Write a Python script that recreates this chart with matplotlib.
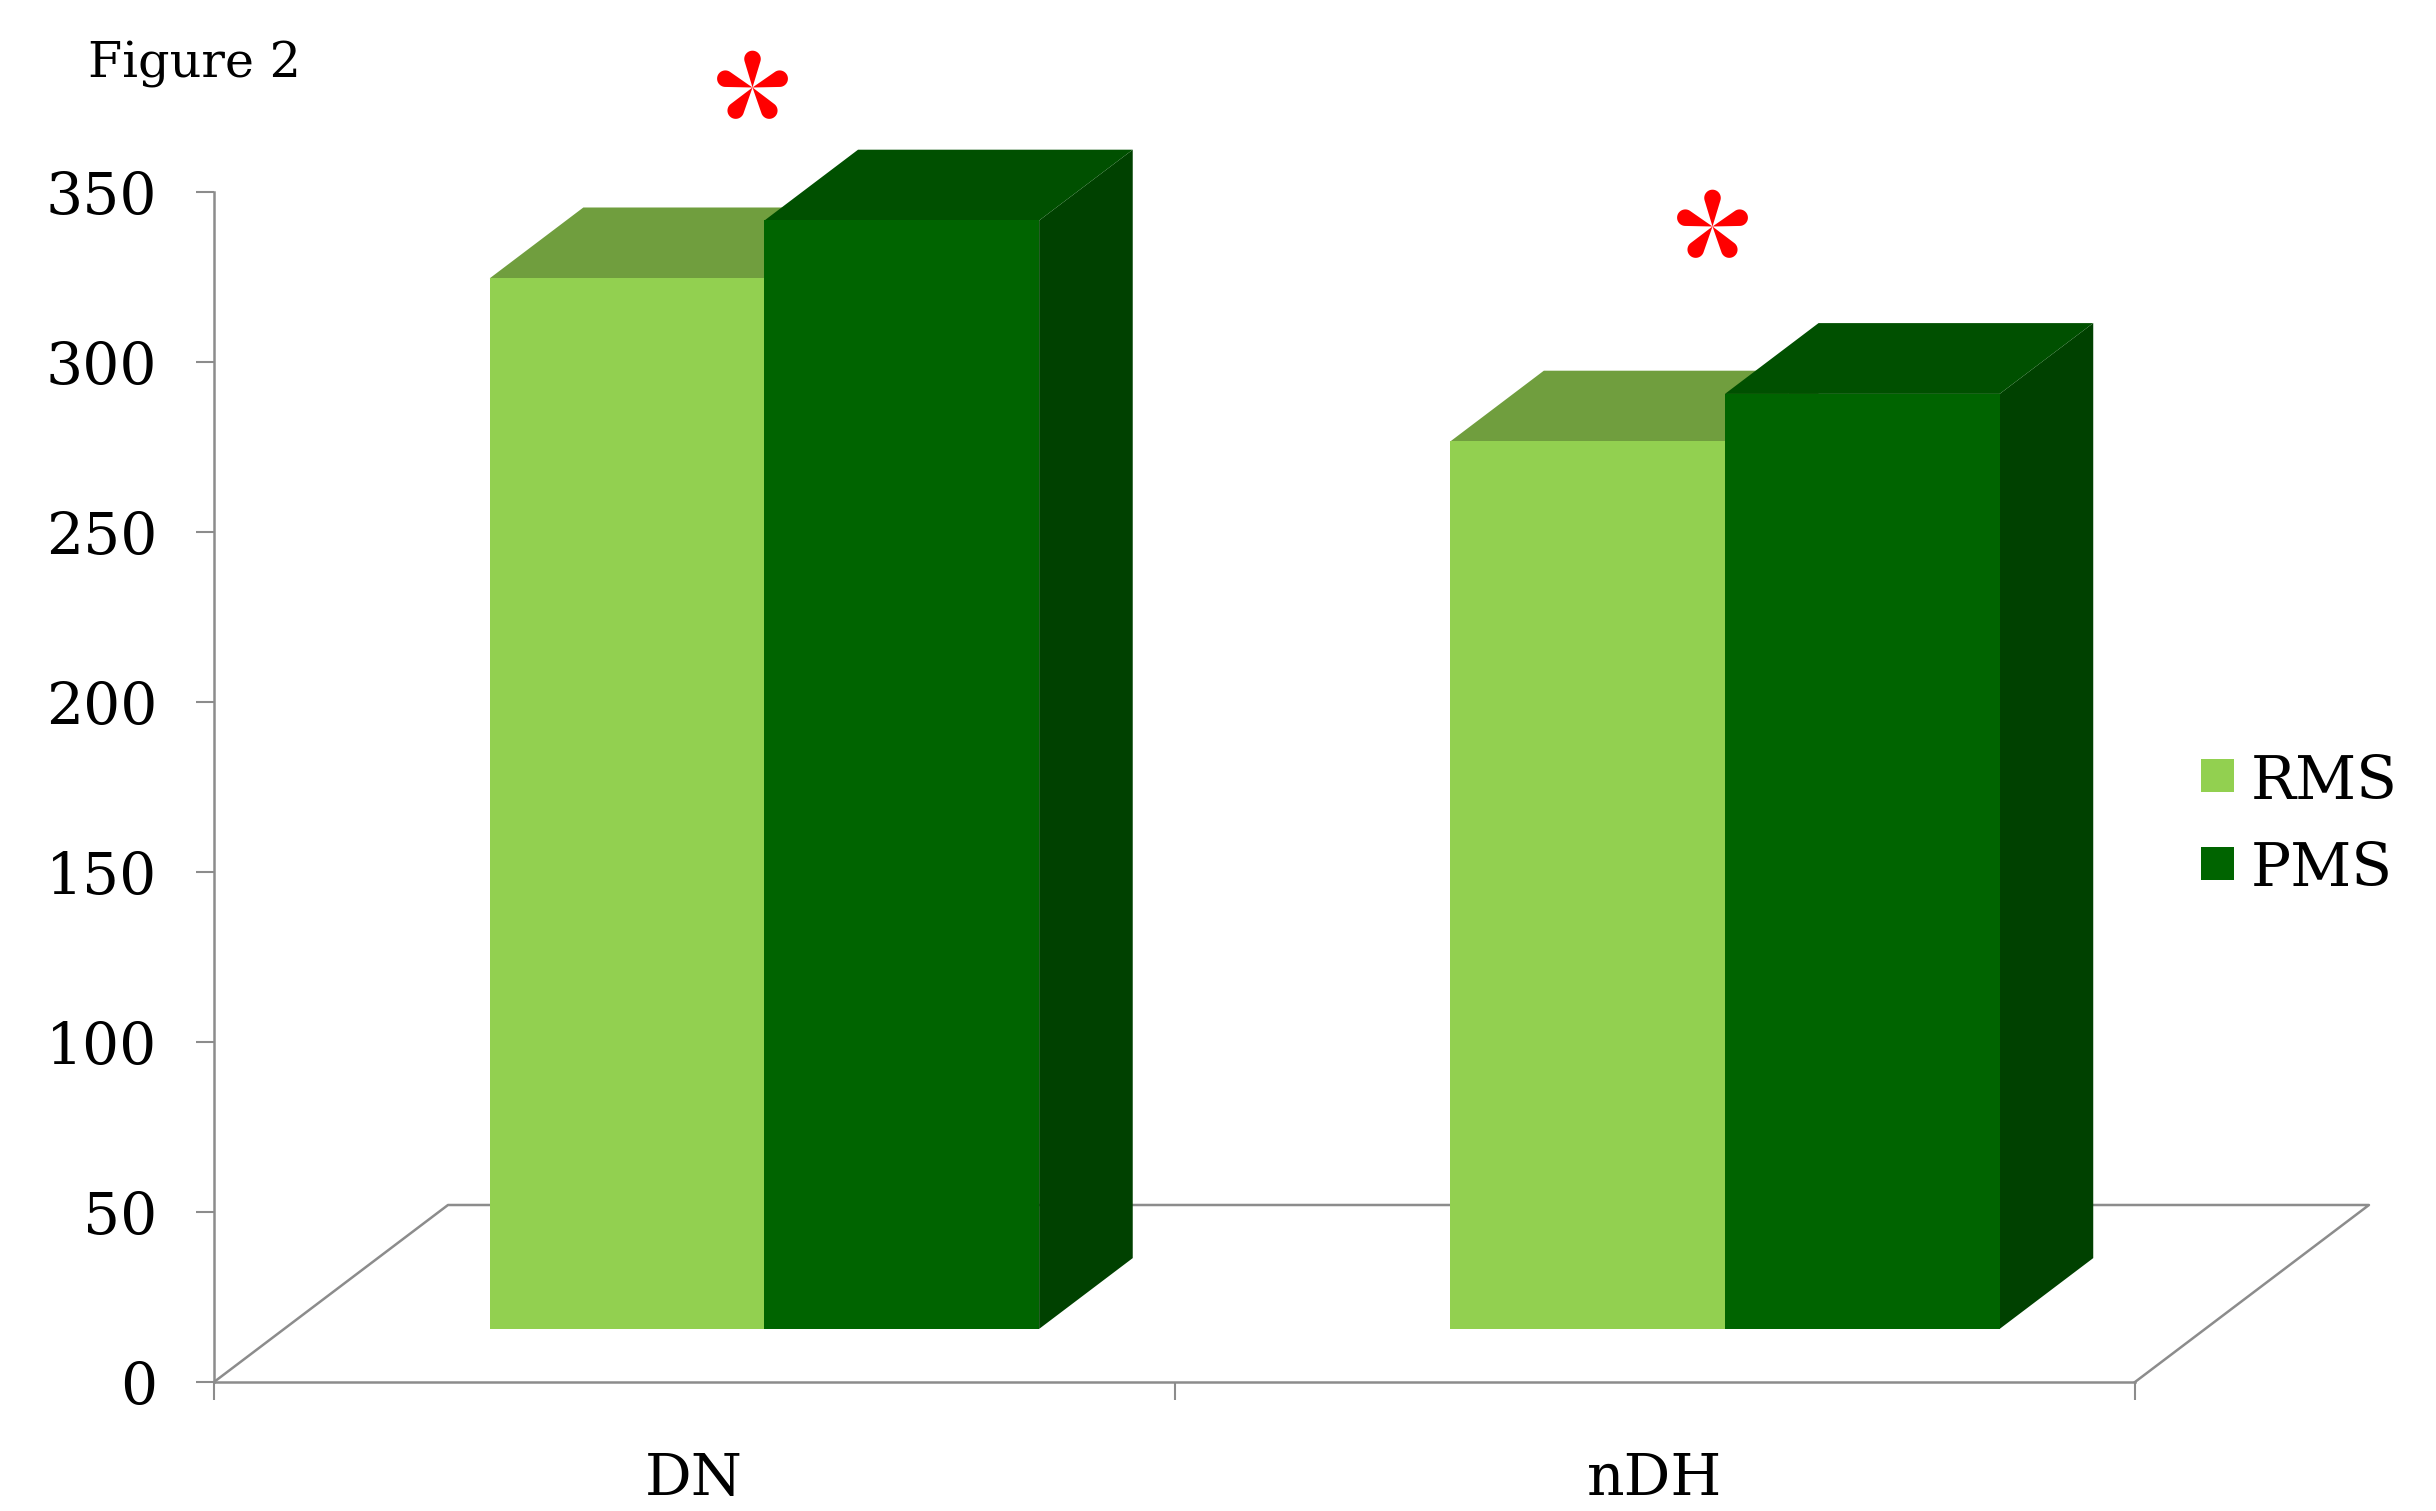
import numpy as np
import matplotlib.pyplot as plt
from matplotlib.patches import Polygon, Rectangle
from matplotlib.path import Path

plt.rcParams['font.family'] = ['DejaVu Serif']

#---data
categories = ['DN', 'nDH']
series = ['RMS', 'PMS']
rms = [309, 261]
pms = [326, 275]
yticks = [0, 50, 100, 150, 200, 250, 300, 350]
sig_y = [381, 340]   # where the red asterisks sit (value units)

#---colours: front, top, side
cols = {'RMS': ('#92D050', '#709E3E', '#5E8A32'),
        'PMS': ('#006400', '#005000', '#004100')}
line_col = '#8c8c8c'

#---fake 3d: oblique offset of the floor depth
DX = 0.2436   # x units for full depth
DY = 52.06    # value units for full depth
Z0, Z1 = 0.30, 0.70
BAR_W = 0.286

def proj(x, y, z):
    return (x + z*DX, y + z*DY)

#---five-petal asterisk marker (teardrop petals)
def asterisk_path(n=5, d=0.76, r=0.22):
    a = np.arcsin(r/d)
    phi = np.linspace(-a, np.pi + a, 40)
    petal = np.column_stack([r*np.cos(phi), d + r*np.sin(phi)])
    petal = np.vstack([[0, 0], petal, [0, 0]])
    verts, codes = [], []
    for k in range(n):
        t = np.deg2rad(72*k)
        rot = np.array([[np.cos(t), -np.sin(t)], [np.sin(t), np.cos(t)]])
        p = petal @ rot.T
        verts.extend(p.tolist())
        codes.extend([Path.MOVETO] + [Path.LINETO]*(len(p) - 2) + [Path.CLOSEPOLY])
    return Path(verts, codes)

fig = plt.figure(figsize=(24.36, 15.11), dpi=100)
ax = fig.add_axes([214/2436, 129/1511, (2135-214)/2436, (1382-192)/1511])
ax.set_xlim(0, 2)
ax.set_ylim(0, 350)

for s in ['top', 'right']:
    ax.spines[s].set_visible(False)
for s in ['left', 'bottom']:
    ax.spines[s].set_color(line_col)
    ax.spines[s].set_linewidth(1.8)

#---floor outline
fl = [proj(0, 0, 0), proj(0, 0, 1), proj(2, 0, 1), proj(2, 0, 0)]
fx, fy = zip(*fl)
ax.plot(fx, fy, color=line_col, lw=1.8, clip_on=False, zorder=1)

#---bars
vals = {'RMS': rms, 'PMS': pms}
for i in range(len(categories)):
    for j, name in enumerate(series):
        h = vals[name][i]
        x0 = i + 0.5 - BAR_W + j*BAR_W
        x1 = x0 + BAR_W
        front = [proj(x0, 0, Z0), proj(x1, 0, Z0), proj(x1, h, Z0), proj(x0, h, Z0)]
        top = [proj(x0, h, Z0), proj(x1, h, Z0), proj(x1, h, Z1), proj(x0, h, Z1)]
        side = [proj(x1, 0, Z0), proj(x1, 0, Z1), proj(x1, h, Z1), proj(x1, h, Z0)]
        z = 3 + 3*j
        ax.add_patch(Polygon(side, closed=True, fc=cols[name][2], ec='none', clip_on=False, zorder=z))
        ax.add_patch(Polygon(top, closed=True, fc=cols[name][1], ec='none', clip_on=False, zorder=z+1))
        ax.add_patch(Polygon(front, closed=True, fc=cols[name][0], ec='none', clip_on=False, zorder=z+2))

#---significance asterisks
star = asterisk_path()
sx = [i + 0.56 for i in range(len(categories))]
ax.plot(sx, sig_y, linestyle='none', marker=star, ms=53, color='red',
        mec='none', clip_on=False, zorder=10)

#---axes ticks
ax.set_yticks(yticks)
ax.tick_params(axis='y', length=13, width=1.5, color=line_col, labelsize=42, pad=28)
ax.set_xticks([0, 1, 2])
ax.set_xticklabels([])
ax.set_xticks([i + 0.5 for i in range(len(categories))], minor=True)
ax.set_xticklabels(categories, minor=True)
ax.tick_params(axis='x', which='major', length=13, width=1.5, color=line_col, direction='out')
ax.tick_params(axis='x', which='minor', length=0, labelsize=42, pad=50)

#---legend
for k, name in enumerate(series):
    fig.patches.append(Rectangle((2201/2436, 1 - (792 + 88*k)/1511), 33/2436, 33/1511,
                                 transform=fig.transFigure, fc=cols[name][0], ec='none'))
    fig.text(2251/2436, 1 - (799 + 87*k)/1511, name, fontsize=43, va='baseline', ha='left')

fig.text(88/2436, 1 - 78/1511, 'Figure 2', fontsize=35.5, va='baseline', ha='left')

fig.savefig('out.png', dpi=100)
